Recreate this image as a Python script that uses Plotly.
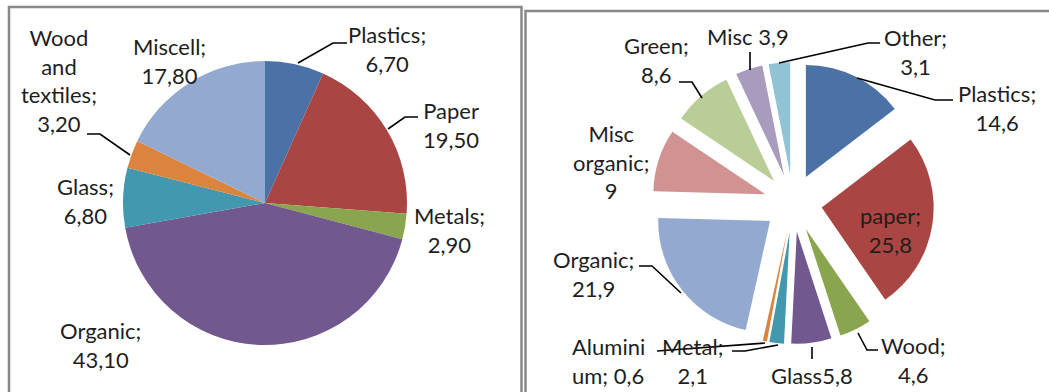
import plotly.graph_objects as go

W, H = 1049, 392

# ---------------- data ----------------
left_categories = ["Plastics", "Paper", "Metals", "Organic", "Glass", "Wood and textiles", "Miscell"]
left_values = [6.70, 19.50, 2.90, 43.10, 6.80, 3.20, 17.80]
left_colors = ["#4A72A6", "#A94643", "#89A54E", "#71588F", "#4198AF", "#DB843D", "#93A9CF"]
left_label_fmt = ["{n};<br>{v}", "{n}<br>{v}", "{n};<br>{v}", "{n};<br>{v}", "{n};<br>{v}",
                  "Wood<br>and<br>textiles;<br>{v}", "{n};<br>{v}"]

right_categories = ["Plastics", "paper", "Wood", "Glass", "Metal", "Aluminium", "Organic",
                    "Misc organic", "Green", "Misc", "Other"]
right_values = [14.6, 25.8, 4.6, 5.8, 2.1, 0.6, 21.9, 9, 8.6, 3.9, 3.1]
right_colors = ["#4A72A6", "#A94643", "#89A54E", "#71588F", "#4198AF", "#DB843D", "#93A9CF",
                "#D19392", "#B9CD96", "#A99BBD", "#92C3D5"]
right_label_fmt = ["{n};<br>{v}", "{n};<br>{v}", "{n};<br>{v}", "{n}{v}", "{n};<br>{v}",
                   "Alumini<br>um; {v}", "{n};<br>{v}", "Misc<br>organic;<br>{v}", "{n};<br>{v}",
                   "{n} {v}", "{n};<br>{v}"]

# ---------------- layout helpers ----------------
def px(x):
    return x / W

def py(y):
    return 1 - y / H

def fmt2(v):
    return f"{v:.2f}".replace(".", ",")

def fmtg(v):
    return f"{v:g}".replace(".", ",")

FONT = "Lato, Carlito, Calibri, sans-serif"
FS = 22
TXT = "#1e1e1e"

fig = go.Figure()

# left pie: center (265,203), radius 142
lcx, lcy, lr = 265, 203, 142
fig.add_trace(go.Pie(
    labels=left_categories, values=left_values, sort=False, direction="clockwise", rotation=0,
    marker=dict(colors=left_colors, line=dict(width=0)), textinfo="none", hoverinfo="label+value",
    showlegend=False,
    domain=dict(x=[px(lcx - lr), px(lcx + lr)], y=[py(lcy + lr), py(lcy - lr)]),
))

# right pie (exploded): center (793,203), outer extent 141, pull 0.26
rcx, rcy, rext = 793, 203, 141
pull = 0.26
fig.add_trace(go.Pie(
    labels=right_categories, values=right_values, sort=False, direction="clockwise", rotation=0,
    marker=dict(colors=right_colors, line=dict(width=0)), textinfo="none", hoverinfo="label+value",
    showlegend=False, pull=[pull] * len(right_values),
    domain=dict(x=[px(rcx - rext), px(rcx + rext)], y=[py(rcy + rext), py(rcy - rext)]),
))

annotations = []

left_pos = [(387, 49), (451, 125), (449, 230), (100, 345), (86, 201), (59, 80), (169, 61)]
for n, v, f, (x, y) in zip(left_categories, left_values, left_label_fmt, left_pos):
    annotations.append(dict(x=px(x), y=py(y), xref="paper", yref="paper", showarrow=False,
                            xanchor="center", yanchor="middle",
                            text=f.format(n=n, v=fmt2(v)), align="center",
                            font=dict(family=FONT, size=FS, color=TXT)))

right_pos = [(997, 108), (890, 230), (913, 360), (812, 375), (692, 361), (570, 361), (593, 274),
             (611, 162), (656, 60), (748, 37), (915, 52)]
for i, (n, v, f, (x, y)) in enumerate(zip(right_categories, right_values, right_label_fmt, right_pos)):
    a = dict(x=px(x), y=py(y), xref="paper", yref="paper", showarrow=False,
             xanchor="center", yanchor="middle",
             text=f.format(n=n, v=fmtg(v)), align="center",
             font=dict(family=FONT, size=FS, color=TXT))
    if n == "Aluminium":
        a.update(xanchor="left", align="left")
    annotations.append(a)

# leader lines (pixel coordinates)
leaders = [
    [(298, 63), (333, 43), (347, 43)],      # left Plastics
    [(388, 129), (405, 117), (418, 117)],   # left Paper
    [(130, 155), (100, 134), (87, 134)],    # left Wood
    [(779, 63), (868, 43), (880, 43)],      # right Other
    [(857, 78), (935, 100), (953, 100)],    # right Plastics
    [(750, 52), (750, 70)],                 # right Misc
    [(702, 98), (692, 82), (679, 82)],      # right Green
    [(681, 293), (652, 266), (639, 266)],   # right Organic
    [(858, 333), (867, 350), (878, 350)],   # right Wood
    [(812, 347), (812, 359)],               # right Glass
    [(778, 345), (745, 351), (732, 351)],   # right Metal
    [(765, 343), (657, 351)],               # right Aluminium
]
shapes = []
for pts in leaders:
    path = "M " + " L ".join(f"{px(x):.5f},{py(y):.5f}" for x, y in pts)
    shapes.append(dict(type="path", path=path, xref="paper", yref="paper",
                       line=dict(color="#000000", width=1.6)))

# chart area borders
shapes.append(dict(type="rect", xref="paper", yref="paper", x0=px(9), x1=px(521.5), y0=py(400), y1=py(7),
                   line=dict(color="#898989", width=2.5), layer="below"))
shapes.append(dict(type="rect", xref="paper", yref="paper", x0=px(525.5), x1=px(1055), y0=py(400), y1=py(11),
                   line=dict(color="#898989", width=2.5), layer="below"))

fig.update_layout(
    width=W, height=H, margin=dict(l=0, r=0, t=0, b=0),
    paper_bgcolor="white", plot_bgcolor="white",
    annotations=annotations, shapes=shapes,
    font=dict(family=FONT, size=FS, color=TXT),
)

fig.write_html("out.html")
